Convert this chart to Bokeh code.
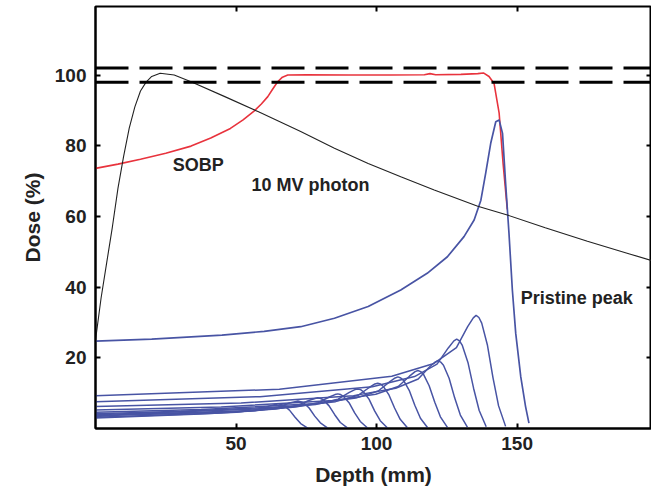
from bokeh.plotting import figure
from bokeh.models import Range1d, FixedTicker, LinearAxis, Span, ColumnDataSource
from bokeh.core.properties import value
from bokeh.embed import file_html
from bokeh.resources import INLINE

# ---- data ----
x_ticks = [50, 100, 150]
y_ticks = [20, 40, 60, 80, 100]
ref_levels = [98, 102]

photon_depth = [0, 2, 4, 6, 8, 10, 12, 14, 16, 18, 20, 23, 28, 34, 46, 58, 73, 85, 97,
                108.6, 120.5, 136, 146.5, 160, 175, 190, 200]
photon_dose = [25, 37, 47, 57, 68, 77, 85, 91, 95.5, 98, 99.6, 100.5, 100, 98.1, 93.9,
               89.6, 84, 79.3, 75, 71.2, 67.5, 62.9, 60.4, 56.8, 53, 49.4, 47]

sobp_depth = [0, 8, 16, 25, 34, 41, 48, 52.5, 56.4, 59, 61.3, 63, 64.8, 66.5, 68.4, 75, 90,
              105, 117, 119, 121, 130, 136, 138, 140, 141.8, 143.6, 145, 146.5]
sobp_dose = [73.6, 74.8, 76.2, 77.9, 79.9, 82.2, 84.9, 87.3, 89.8, 91.8, 93.9, 96, 98.1,
             99.4, 100, 100.1, 100, 100, 100.1, 100.4, 100.1, 100.2, 100.4, 100.6, 99.6,
             97.6, 89.2, 75, 62]

pristine_depth = [0, 20, 45, 60, 73, 85, 97, 108.6, 118, 125.2, 131.1, 134.7, 137.1, 138.8,
                  140.6, 142.4, 143.6, 144.8, 145.9, 147.1, 148.3, 149.5, 151.3, 153, 154.2]
pristine_dose = [24.7, 25.3, 26.4, 27.5, 28.8, 31.2, 34.5, 39.2, 43.9, 48.6, 54.3, 59, 64.6,
                 72.2, 80.7, 86.8, 87.3, 83.5, 69.4, 55.2, 39.2, 26.9, 14.6, 6.2, 1.5]

peak1_depth = [0, 65.4, 105.4, 120.4, 128.4, 132.4, 134.4, 135.4, 136.4, 137.4, 139.4, 141.4, 143.4, 145.9]
peak1_dose = [9.3, 11.1, 14.8, 18.4, 22.9, 28.8, 31.3, 32.0, 31.4, 29.8, 23.7, 14.4, 6.4, 0.6]
peak2_depth = [0, 58.5, 98.5, 113.5, 121.5, 125.5, 127.5, 128.5, 129.5, 130.5, 132.5, 134.5, 136.5, 139]
peak2_dose = [7.6, 9.0, 11.8, 14.7, 18.2, 22.8, 24.8, 25.3, 24.8, 23.5, 18.7, 11.4, 5.1, 0.5]
peak3_depth = [0, 51.8, 91.8, 106.8, 114.8, 118.8, 120.8, 121.8, 122.8, 123.8, 125.8, 127.8, 129.8, 132.3]
peak3_dose = [6.2, 7.2, 9.3, 11.4, 14.0, 17.4, 18.8, 19.2, 18.8, 17.9, 14.2, 8.6, 3.8, 0.4]
peak4_depth = [0, 44.7, 84.7, 99.7, 107.7, 111.7, 113.7, 114.7, 115.7, 116.7, 118.7, 120.7, 122.7, 125.2]
peak4_dose = [5.2, 6.1, 7.9, 9.7, 11.9, 14.8, 16.1, 16.4, 16.1, 15.3, 12.1, 7.4, 3.3, 0.3]
peak5_depth = [0, 37.6, 77.6, 92.6, 100.6, 104.6, 106.6, 107.6, 108.6, 109.6, 111.6, 113.6, 115.6, 118.1]
peak5_dose = [4.6, 5.4, 7.0, 8.6, 10.6, 13.2, 14.3, 14.6, 14.3, 13.6, 10.8, 6.6, 2.9, 0.3]
peak6_depth = [0, 30.4, 70.4, 85.4, 93.4, 97.4, 99.4, 100.4, 101.4, 102.4, 104.4, 106.4, 108.4, 110.9]
peak6_dose = [4.2, 4.9, 6.3, 7.6, 9.4, 11.6, 12.6, 12.8, 12.6, 11.9, 9.5, 5.8, 2.6, 0.3]
peak7_depth = [0, 23.3, 63.3, 78.3, 86.3, 90.3, 92.3, 93.3, 94.3, 95.3, 97.3, 99.3, 101.3, 103.8]
peak7_dose = [3.9, 4.5, 5.7, 6.8, 8.3, 10.2, 11.0, 11.2, 11.0, 10.4, 8.3, 5.0, 2.2, 0.2]
peak8_depth = [0, 16.2, 56.2, 71.2, 79.2, 83.2, 85.2, 86.2, 87.2, 88.2, 90.2, 92.2, 94.2, 96.7]
peak8_dose = [3.6, 4.1, 5.1, 6.1, 7.3, 8.9, 9.6, 9.8, 9.6, 9.1, 7.3, 4.4, 2.0, 0.2]
peak9_depth = [0, 9.1, 49.1, 64.1, 72.1, 76.1, 78.1, 79.1, 80.1, 81.1, 83.1, 85.1, 87.1, 89.6]
peak9_dose = [3.4, 3.8, 4.7, 5.5, 6.6, 8.0, 8.5, 8.7, 8.5, 8.1, 6.4, 3.9, 1.7, 0.2]
peak10_depth = [0, 42, 57, 65, 69, 71, 72, 73, 74, 76, 78, 80, 82.5]
peak10_dose = [3.2, 4.3, 5.0, 6.0, 7.2, 7.6, 7.8, 7.6, 7.3, 5.8, 3.5, 1.6, 0.2]
peak11_depth = [0, 35, 50, 58, 62, 64, 65, 66, 67, 69, 71, 73, 75.5]
peak11_dose = [3.0, 4.0, 4.6, 5.4, 6.4, 6.8, 7.0, 6.8, 6.5, 5.2, 3.2, 1.4, 0.1]

sub_peaks = [
    (peak1_depth, peak1_dose), (peak2_depth, peak2_dose), (peak3_depth, peak3_dose),
    (peak4_depth, peak4_dose), (peak5_depth, peak5_dose), (peak6_depth, peak6_dose),
    (peak7_depth, peak7_dose), (peak8_depth, peak8_dose), (peak9_depth, peak9_dose),
    (peak10_depth, peak10_dose), (peak11_depth, peak11_dose),
]

label_text = ["SOBP", "10 MV photon", "Pristine peak"]
label_x = [27.5, 55.5, 151.3]
label_y = [74.5, 68.9, 36.9]

# ---- styles ----
FONT = "Liberation Sans"
TXT = "#222222"
BLUE = "#4854a4"
RED = "#e8333d"

p = figure(width=651, height=490, x_range=Range1d(0, 197.8), y_range=Range1d(0, 119.4),
           output_backend="svg", toolbar_location=None,
           min_border_left=95, min_border_right=0, min_border_top=6, min_border_bottom=62)
p.grid.visible = False
p.outline_line_color = "black"
p.outline_line_width = 2

def style_axis(ax, show_labels):
    ax.minor_tick_line_color = None
    ax.major_tick_in = 5
    ax.major_tick_out = 0
    ax.major_tick_line_width = 2
    ax.major_tick_line_color = "black"
    ax.axis_line_width = 2
    ax.axis_line_color = "black"
    if show_labels:
        ax.major_label_text_font = FONT
        ax.major_label_text_font_style = "bold"
        ax.major_label_text_font_size = "19px"
        ax.major_label_text_color = TXT
        ax.axis_label_text_font = FONT
        ax.axis_label_text_font_style = "bold"
        ax.axis_label_text_font_size = "21px"
        ax.axis_label_text_color = TXT
    else:
        ax.major_label_text_color = None
        ax.major_label_standoff = 0
        ax.axis_line_color = None

p.xaxis.ticker = FixedTicker(ticks=x_ticks)
p.yaxis.ticker = FixedTicker(ticks=y_ticks)
style_axis(p.xaxis[0], True)
style_axis(p.yaxis[0], True)
p.xaxis.axis_label = "Depth (mm)"
p.yaxis.axis_label = "Dose (%)"
p.xaxis.major_label_standoff = 8
p.yaxis.major_label_standoff = 9
p.xaxis.axis_label_standoff = 10
p.yaxis.axis_label_standoff = 8

top_ax = LinearAxis(ticker=FixedTicker(ticks=x_ticks))
style_axis(top_ax, False)
p.add_layout(top_ax, "above")
right_ax = LinearAxis(ticker=FixedTicker(ticks=y_ticks))
style_axis(right_ax, False)
p.add_layout(right_ax, "right")

for lvl in ref_levels:
    p.add_layout(Span(location=lvl, dimension="width", line_color="black",
                      line_width=3, line_dash="33 11"))

p.line(sobp_depth, sobp_dose, line_color=RED, line_width=1.6)
for d, v in sub_peaks:
    p.line(d, v, line_color=BLUE, line_width=1.5)
p.line(pristine_depth, pristine_dose, line_color=BLUE, line_width=1.7)
p.line(photon_depth, photon_dose, line_color="#222222", line_width=1.1)

src = ColumnDataSource(dict(x=label_x, y=label_y, t=label_text))
p.text(x="x", y="y", text="t", source=src, text_font=value(FONT), text_font_style="bold",
       text_font_size="18px", text_color=TXT, text_baseline="middle", text_align="left")

open("out.html", "w").write(file_html(p, INLINE))
